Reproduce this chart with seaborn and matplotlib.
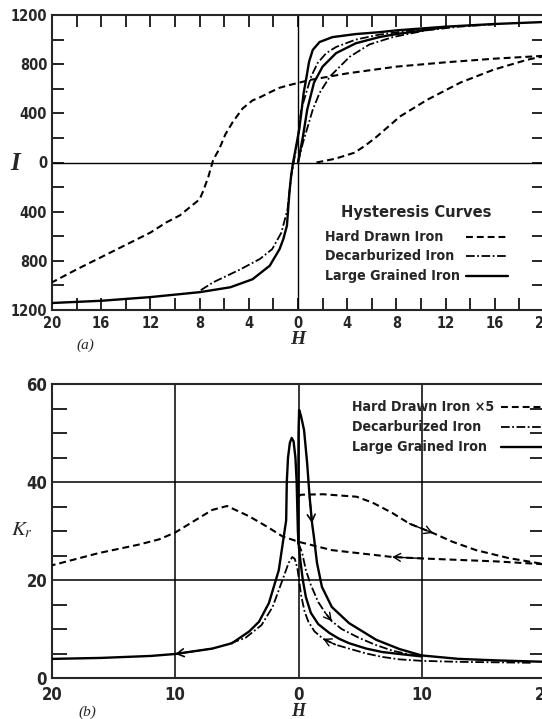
import os
import numpy as np
import matplotlib
matplotlib.use("Agg")
import matplotlib.pyplot as plt
import seaborn as sns
from matplotlib import font_manager as fm
from matplotlib.ticker import FixedLocator, FuncFormatter
from matplotlib.lines import Line2D

# ---------------- (a) Hysteresis curves: I against H ----------------
hard_desc_h = [20, 16, 12, 8, 4, 1, -0.7, -1.5, -2.3, -3.1, -3.7, -4.5, -5.3, -5.9,
               -6.4, -6.9, -7.3, -7.7, -8, -8.5, -9.6, -10.7, -12, -14, -16, -18, -20]
hard_desc_i = [868, 845, 815, 780, 725, 672, 630, 608, 570, 530, 505, 440, 330, 230,
               110, 20, -120, -230, -300, -340, -430, -487, -570, -670, -770, -870, -975]
hard_asc_h = [1.5, 3, 4.6, 5.5, 6.4, 8.3, 10.5, 13.2, 15.9, 18.6, 20]
hard_asc_i = [0, 30, 80, 140, 210, 375, 510, 650, 755, 835, 865]

decarb_desc_h = [12, 9, 6.6, 4.7, 3.1, 2.3, 1.6, 1.07, 0.66, 0.26, 0, -0.3, -0.55, -0.85,
                 -1.35, -2.1, -3.1, -4.7, -6.9, -8]
decarb_desc_i = [1100, 1072, 1040, 1000, 940, 890, 810, 700, 565, 430, 200, 30, -110, -380,
                 -570, -705, -785, -870, -975, -1045]
decarb_asc_h = [0, 0.4, 1.2, 1.75, 2.6, 4.2, 5.8, 7.7, 10.4, 13.1, 16]
decarb_asc_i = [0, 160, 430, 565, 700, 860, 960, 1020, 1075, 1105, 1125]

large_desc_h = [20, 16, 12, 8, 6.6, 4.7, 2.8, 1.75, 1.2, 0.9, 0.7, 0.45, 0.3, 0.1, -0.1,
                -0.4, -0.55, -0.7, -0.9, -1.2, -1.5, -2.3, -3.7, -5.5, -8, -12, -16, -20]
large_desc_i = [1143, 1127, 1105, 1075, 1060, 1045, 1020, 980, 916, 820, 700, 560, 430, 270, 160,
                0, -100, -245, -515, -625, -705, -840, -950, -1015, -1055, -1095, -1125, -1143]
large_asc_h = [0, 0.4, 0.75, 1.3, 2.0, 3.1, 4.7, 6.6, 8, 10, 12]
large_asc_i = [0, 210, 430, 650, 780, 890, 970, 1020, 1045, 1072, 1102]

# ---------------- (b) Reversible permeability K_r against H ----------------
hard5_left_h = [20, 16, 13, 10, 7.6, 5.5, 2.7, 0, -1.3, -2.5, -4, -5.8, -7, -8.5, -10,
                -11.3, -13, -16.2, -20]
hard5_left_k = [23.2, 23.8, 24.1, 24.4, 24.7, 25.3, 26.1, 27.8, 28.9, 30.8, 33.0, 35.1, 34.3,
                32.0, 29.7, 28.3, 27.2, 25.5, 23.0]
hard5_right_h = [0, 0.2, 2, 4.7, 6, 7.6, 9, 10.9, 12.5, 14.4, 17, 20]
hard5_right_k = [37.1, 37.4, 37.5, 37.0, 35.8, 33.7, 31.5, 29.6, 27.8, 26.1, 24.5, 23.2]

large_peak_h = [-20, -16, -12, -10, -7, -5.4, -4, -3.2, -2.4, -1.6, -1.2, -1.0, -0.95,
                -0.85, -0.7, -0.55, -0.4, -0.25, -0.15, -0.1, -0.05, 0, 0.15, 0.35, 0.6,
                1.0, 1.6, 2.5, 3.3, 4.1, 5.5, 6.8, 8.2, 10]
large_peak_k = [3.9, 4.1, 4.5, 4.9, 6.0, 7.1, 9.5, 11.5, 15.3, 22, 28.8, 32.2, 40,
                45, 48, 49, 48.3, 45, 40, 35, 30, 27.5, 24, 20, 16.5,
                13.3, 11, 9.2, 8.0, 7.1, 6.0, 5.3, 4.9, 4.4]
large_tall_h = [-0.02, 0, 0.05, 0.2, 0.45, 0.7, 0.9, 1.1, 1.25, 1.5, 1.9, 2.7, 4.1, 6.3,
                8.2, 10, 13, 16, 20]
large_tall_k = [27.5, 50, 54.7, 53.5, 50.6, 43.9, 37, 31.6, 28.8, 23.5, 18.6, 14.5, 11.2, 7.8,
                5.9, 4.6, 3.9, 3.6, 3.3]

decarb_peak_h = [-5.5, -4.3, -3, -2.1, -1.3, -0.8, -0.5, -0.3, -0.1, 0.05, 0.2, 0.5, 0.8,
                 1.3, 2.0, 3, 4.1, 5.5, 6.8, 8.2, 10, 13, 16, 19]
decarb_peak_k = [7.1, 8.2, 10.8, 14.5, 20, 23.5, 24.7, 24.3, 22.5, 20, 17, 13.5, 11.5,
                 9.5, 8.0, 6.8, 6.0, 5.0, 4.3, 3.8, 3.5, 3.3, 3.2, 3.1]
decarb_upper_h = [0, 0.3, 0.6, 1.0, 1.6, 2.2, 2.7, 3.5, 4.9, 6.2, 7.6, 9, 10]
decarb_upper_k = [27.5, 25.5, 22, 19, 15.5, 13.2, 11.6, 10, 8.2, 6.8, 5.6, 4.8, 4.5]

title_a = "Hysteresis Curves"
labels_a = ["Hard Drawn Iron", "Decarburized Iron", "Large Grained Iron"]
labels_b = ["Hard Drawn Iron \u00d75", "Decarburized Iron", "Large Grained Iron"]

# ---------------- styling ----------------
sns.set_style("ticks")
plt.rcParams["font.family"] = ["DejaVu Sans"]
plt.rcParams["mathtext.fontset"] = "stix"


def narrow_bold_font():
    """Pick an installed condensed bold sans face (narrowest sensible first)."""
    best, best_score = None, -1
    for f in fm.fontManager.ttflist:
        key = (f.name + os.path.basename(f.fname)).lower()
        key = key.replace(" ", "").replace("-", "").replace("_", "")
        if any(s in key for s in ("italic", "oblique", "mono", "serif")):
            continue
        cond = ("narrow" in key or "condensed" in key
                or f.stretch in ("condensed", "semi-condensed", "extra-condensed"))
        if not cond:
            continue
        bold = "bold" in key and not any(s in key for s in ("semibold", "extrabold", "demibold"))
        if not bold and f.weight in (700, "bold"):
            bold = True
        if not bold:
            score = 5
        elif "noto" in key and "extracondensed" in key:
            score = 100
        elif "liberation" in key and "narrow" in key:
            score = 90
        elif "noto" in key and "semicondensed" not in key:
            score = 80
        else:
            score = 50
        if "display" in key:
            score -= 5
        if score > best_score:
            best, best_score = f.fname, score
    if best is None:
        return fm.FontProperties(family="DejaVu Sans", weight="bold")
    return fm.FontProperties(fname=best)


NARROW = narrow_bold_font()


def nfont(size):
    fp = NARROW.copy()
    fp.set_size(size)
    return fp


DASH = (0, (3.3, 1.9))
DASHDOT = (0, (4.8, 1.4, 1.0, 1.4))
styles = {
    "hard": dict(color="black", lw=1.5, linestyle=DASH),
    "decarb": dict(color="black", lw=1.3, linestyle=DASHDOT),
    "large": dict(color="black", lw=1.7, linestyle="-"),
}
SERIF = ["Liberation Serif", "DejaVu Serif"]

W, HT = 542, 719
fig = plt.figure(figsize=(W / 100, HT / 100), dpi=100)
renderer = fig.canvas.get_renderer()


def fitted(text, width_px, max_size):
    """Font size at which `text` spans about width_px pixels."""
    t = fig.text(0, 0, text, fontproperties=nfont(10))
    w = t.get_window_extent(renderer).width
    t.remove()
    return min(10.0 * width_px / w, max_size)


size_title_a = fitted(title_a, 150, 14)
size_keys_a = fitted(labels_a[2], 134, 13)
size_keys_b = fitted(labels_b[0], 142, 13)
size_ticks_a = 10.5
size_ticks_b = 12


def box(l, t, r, b):
    return [l / W, 1 - b / HT, (r - l) / W, (b - t) / HT]


ax_a = fig.add_axes(box(52, 15, 544, 310))
ax_b = fig.add_axes(box(52, 384, 545, 678))

absfmt = FuncFormatter(lambda v, p: f"{abs(v):.0f}")


def curve(ax, h, v, kind, z=3):
    sns.lineplot(x=np.asarray(h, float), y=np.asarray(v, float), ax=ax, sort=False,
                 estimator=None, legend=False, zorder=z, **styles[kind])


def arrow(ax, h, v, i, j, lw=1.2):
    ax.annotate("", xy=(h[j], v[j]), xytext=(h[i], v[i]),
                arrowprops=dict(arrowstyle="->,head_length=0.5,head_width=0.28",
                                lw=lw, color="black", shrinkA=0, shrinkB=0),
                zorder=5)


def key_block(ax, labels, x_text, ys, x0, x1, size, title=None, title_xy=None, title_size=None):
    """Text entries with a sample line of each style to their right."""
    if title is not None:
        ax.text(*title_xy, title, transform=ax.transAxes, ha="center", va="center",
                fontproperties=nfont(title_size))
    for lab, y, kind in zip(labels, ys, ("hard", "decarb", "large")):
        ax.text(x_text, y, lab, transform=ax.transAxes, ha="left", va="center",
                fontproperties=nfont(size))
        ax.add_line(Line2D([x0, x1], [y, y], transform=ax.transAxes, clip_on=False,
                           **styles[kind]))


def style_ticklabels(ax, size):
    for lab in ax.get_xticklabels() + ax.get_yticklabels():
        lab.set_fontproperties(nfont(size))


# ---------------- panel (a) ----------------
ax = ax_a
ax.axhline(0, color="black", lw=1.0, zorder=1)
ax.axvline(0, color="black", lw=1.0, zorder=1)
curve(ax, hard_desc_h, hard_desc_i, "hard")
curve(ax, hard_asc_h, hard_asc_i, "hard")
curve(ax, decarb_desc_h, decarb_desc_i, "decarb")
curve(ax, decarb_asc_h, decarb_asc_i, "decarb")
curve(ax, large_desc_h, large_desc_i, "large")
curve(ax, large_asc_h, large_asc_i, "large")
ax.set_xlim(-20, 20)
ax.set_ylim(-1200, 1200)
ax.xaxis.set_major_locator(FixedLocator(np.arange(-20, 21, 4)))
ax.xaxis.set_minor_locator(FixedLocator(np.arange(-18, 19, 4)))
ax.yaxis.set_major_locator(FixedLocator(np.arange(-1200, 1201, 400)))
ax.yaxis.set_minor_locator(FixedLocator([-1000, -600, -200, 200, 600, 1000]))
ax.xaxis.set_major_formatter(absfmt)
ax.yaxis.set_major_formatter(absfmt)
ax.tick_params(which="both", direction="in", top=True, right=True, width=1.4, length=8.6)
ax.tick_params(axis="x", which="major", pad=4.5)
ax.tick_params(axis="y", which="major", pad=3.5)
style_ticklabels(ax, size_ticks_a)
for s in ax.spines.values():
    s.set_linewidth(1.5)
ax.set_xlabel("H", fontsize=14, family=SERIF, style="italic", weight="bold")
ax.xaxis.set_label_coords(0.5, -0.1)
ax.xaxis.label.set_va("center")
ax.set_ylabel("I", fontsize=18, family=SERIF, style="italic", weight="bold", rotation=0)
ax.yaxis.set_label_coords(-0.075, 0.498)
ax.yaxis.label.set_va("center")
ax.yaxis.label.set_ha("center")
ax.text(0.067, -0.119, "(a)", transform=ax.transAxes, fontsize=11, family=SERIF,
        style="italic", ha="center", va="center")
key_block(ax, labels_a, 0.555, [0.2475, 0.183, 0.115], 0.841, 0.927, size_keys_a,
          title=title_a, title_xy=(0.740, 0.329), title_size=size_title_a)

# ---------------- panel (b) ----------------
ax = ax_b
for yv in (20, 40):
    ax.axhline(yv, color="black", lw=1.1, zorder=1)
for xv in (-10, 0, 10):
    ax.axvline(xv, color="black", lw=1.1, zorder=1)
curve(ax, hard5_left_h, hard5_left_k, "hard")
curve(ax, hard5_right_h, hard5_right_k, "hard")
curve(ax, decarb_peak_h, decarb_peak_k, "decarb")
curve(ax, decarb_upper_h, decarb_upper_k, "decarb")
curve(ax, large_peak_h, large_peak_k, "large")
curve(ax, large_tall_h, large_tall_k, "large")

arrow(ax, large_tall_h, large_tall_k, 6, 7)
arrow(ax, large_peak_h, large_peak_k, 4, 3)
arrow(ax, hard5_right_h, hard5_right_k, 6, 7, lw=1.0)
arrow(ax, hard5_left_h, hard5_left_k, 3, 4, lw=1.0)
arrow(ax, decarb_upper_h, decarb_upper_k, 5, 6, lw=1.0)
arrow(ax, decarb_peak_h, decarb_peak_k, 15, 14, lw=1.0)

ax.set_xlim(-20, 20)
ax.set_ylim(0, 60)
ax.xaxis.set_major_locator(FixedLocator([-20, -10, 0, 10, 20]))
ax.yaxis.set_major_locator(FixedLocator([0, 20, 40, 60]))
ax.yaxis.set_minor_locator(FixedLocator([5, 10, 15, 25, 30, 35, 45, 50, 55]))
ax.xaxis.set_major_formatter(absfmt)
ax.yaxis.set_major_formatter(absfmt)
ax.tick_params(which="major", length=0)
ax.tick_params(axis="x", which="major", pad=6)
ax.tick_params(axis="y", which="major", pad=3.5)
ax.tick_params(axis="y", which="minor", direction="in", left=True, right=True,
               length=10.5, width=1.4)
style_ticklabels(ax, size_ticks_b)
for s in ax.spines.values():
    s.set_linewidth(1.5)
ax.set_xlabel("H", fontsize=13, family=SERIF, style="italic", weight="bold")
ax.xaxis.set_label_coords(0.5, -0.114)
ax.xaxis.label.set_va("center")
ax.set_ylabel(r"$K_r$", fontsize=15, rotation=0)
ax.yaxis.set_label_coords(-0.061, 0.503)
ax.yaxis.label.set_va("center")
ax.yaxis.label.set_ha("center")
ax.text(0.071, -0.116, "(b)", transform=ax.transAxes, fontsize=11, family=SERIF,
        style="italic", ha="center", va="center")
key_block(ax, labels_b, 0.609, [0.922, 0.854, 0.786], 0.910, 1.01, size_keys_b)

fig.savefig("out.png", dpi=100)
